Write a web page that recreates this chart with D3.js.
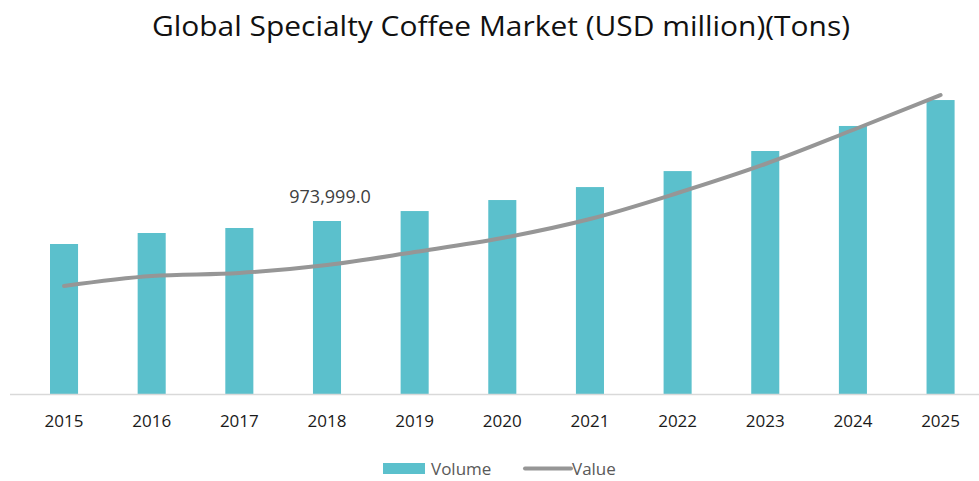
<!DOCTYPE html>
<html>
<head>
<meta charset="utf-8">
<script src="https://cdn.jsdelivr.net/npm/d3@7"></script>
<style>
    body { margin: 0; background: #fff; }
    text { font-family: "Open Sans", "DejaVu Sans", sans-serif; }
</style>
</head>
<body>
<svg id="chart" width="979" height="481"></svg>
<script>
// chart data
const years = ["2015", "2016", "2017", "2018", "2019", "2020", "2021", "2022", "2023", "2024", "2025"];
const volume = [844500, 906400, 934600, 973999, 1030000, 1092000, 1165000, 1255000, 1368000, 1509000, 1655000];
const value = [32400, 35400, 36300, 38700, 42600, 46800, 52500, 60300, 69000, 79200, 89700];
const labelled = "2018";

const svg = d3.select("#chart");
const width = 979;
const baseY = 394;
const topY = 74;

// band centers land at about 64 ... 940
let x = d3.scaleBand()
    .domain(years)
    .range([20.2, 984.4])
    .paddingInner(0.68)
    .paddingOuter(0.34);

let y = d3.scaleLinear().domain([0, 1801600]).range([baseY, topY]);
let y2 = d3.scaleLinear().domain([0, 96000]).range([baseY, topY]);

// title
svg.append("text")
    .attr("x", 501)
    .attr("y", 36)
    .attr("text-anchor", "middle")
    .attr("font-size", 28)
    .attr("textLength", 698)
    .attr("lengthAdjust", "spacingAndGlyphs")
    .style("fill", "#111")
    .text("Global Specialty Coffee Market (USD million)(Tons)");

// bars
svg.append("g").selectAll("rect")
    .data(years)
    .enter()
    .append("rect")
    .attr("x", d => x(d))
    .attr("width", x.bandwidth())
    .attr("y", (d, i) => y(volume[i]))
    .attr("height", (d, i) => baseY - y(volume[i]))
    .style("fill", "#5bc0cc");

// axis line
svg.append("line")
    .attr("x1", 10).attr("x2", width)
    .attr("y1", baseY + 0.5).attr("y2", baseY + 0.5)
    .attr("stroke", "#d9d9d9")
    .attr("stroke-width", 1.5);

// x axis labels
const xAxis = d3.axisBottom(x).tickSize(0).tickPadding(0);
const axG = svg.append("g")
    .attr("transform", "translate(0," + (baseY + 21) + ")")
    .call(xAxis);
axG.select(".domain").remove();
axG.selectAll("text")
    .attr("font-size", 17)
    .style("font-family", "'Open Sans', sans-serif")
    .style("fill", "#1a1a1a");

// value line
const line = d3.line()
    .x((d, i) => x(years[i]) + x.bandwidth() / 2)
    .y(d => y2(d))
    .curve(d3.curveMonotoneX);

svg.append("path")
    .datum(value)
    .attr("d", line)
    .attr("fill", "none")
    .attr("stroke", "#969696")
    .attr("stroke-width", 4)
    .attr("stroke-linecap", "round");

// data label
let li = years.indexOf(labelled);
svg.append("text")
    .attr("x", x(labelled) + x.bandwidth() / 2 + 3)
    .attr("y", y(volume[li]) - 18)
    .attr("text-anchor", "middle")
    .attr("font-size", 18)
    .style("fill", "#404040")
    .text(d3.format(",.1f")(volume[li]));

// legend
const leg = svg.append("g").attr("transform", "translate(383,463)");
leg.append("rect")
    .attr("x", 0).attr("y", 0)
    .attr("width", 42).attr("height", 11)
    .style("fill", "#5bc0cc");
leg.append("text")
    .attr("x", 48).attr("y", 12)
    .attr("font-size", 17)
    .style("fill", "#595959")
    .text("Volume");
leg.append("line")
    .attr("x1", 142).attr("x2", 188)
    .attr("y1", 5.5).attr("y2", 5.5)
    .attr("stroke", "#969696")
    .attr("stroke-width", 4)
    .attr("stroke-linecap", "round");
leg.append("text")
    .attr("x", 189).attr("y", 12)
    .attr("font-size", 17)
    .style("fill", "#595959")
    .text("Value");
</script>
</body>
</html>
